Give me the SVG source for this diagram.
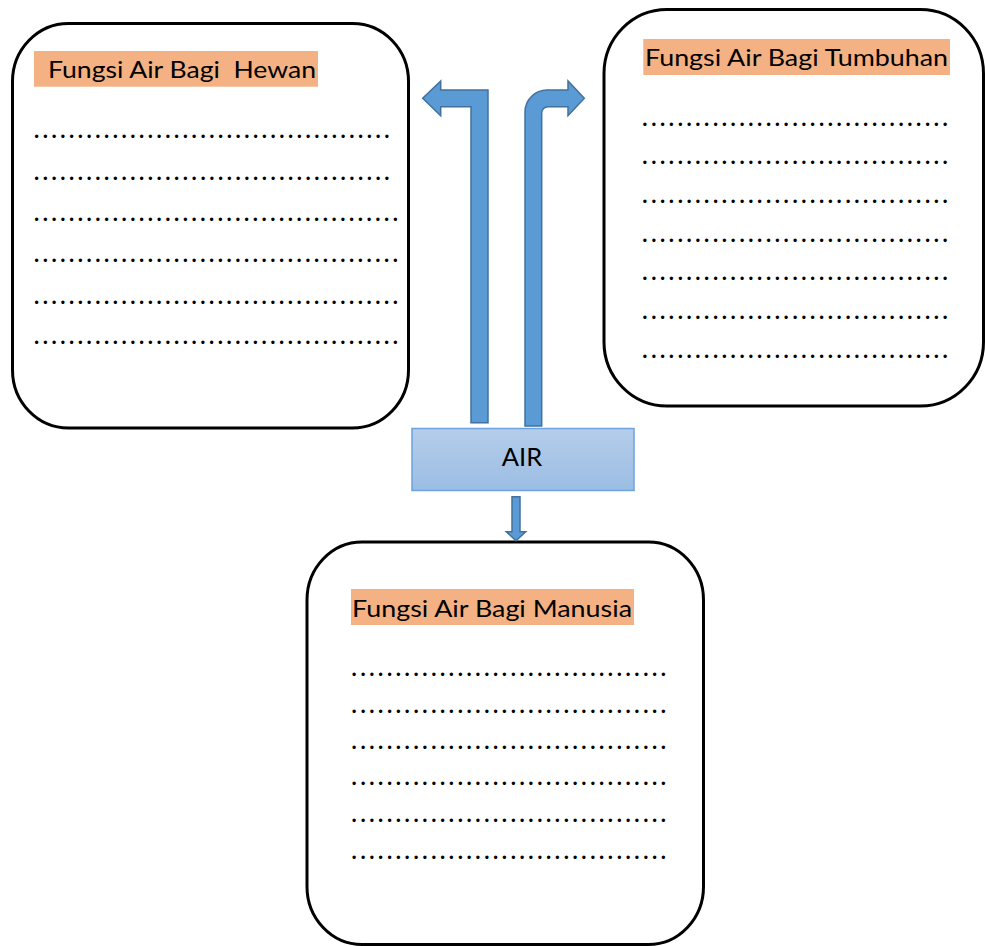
<svg xmlns="http://www.w3.org/2000/svg" width="985" height="946" viewBox="0 0 985 946">
<defs>
<linearGradient id="airGrad" x1="0" y1="0" x2="0" y2="1">
<stop offset="0" stop-color="#b5cdea"/>
<stop offset="1" stop-color="#9bbde4"/>
</linearGradient>
</defs>
<style>
.box{fill:#ffffff;stroke:#000000;stroke-width:3}
.hl{fill:#f4b183}
.title{font-family:Lato,"Liberation Sans",sans-serif;font-size:23px;fill:#000000}
.dots{font-family:Lato,"Liberation Sans",sans-serif;font-size:22px;font-weight:bold;fill:#000000}
.arrow{fill:#5b9bd5;stroke:#41719c;stroke-width:1.5;stroke-linejoin:miter}
.air{fill:url(#airGrad);stroke:#6fa3dc;stroke-width:1.5}
.airtxt{font-family:Lato,"Liberation Sans",sans-serif;font-size:25.5px;fill:#000000}
</style>
<rect width="985" height="946" fill="#ffffff"/>

<g id="node-hewan">
<rect class="box" x="12.5" y="23.5" width="396" height="404.5" rx="56" ry="58"/>
<rect class="hl" x="34" y="51" width="284" height="35.7"/>
<text class="title" x="48" y="77.7" textLength="268" lengthAdjust="spacingAndGlyphs" xml:space="preserve">Fungsi Air Bagi  Hewan</text>
<g class="dots">
<text x="34" y="138.2" textLength="355.5" lengthAdjust="spacing">.........................................</text>
<text x="34" y="180" textLength="355.5" lengthAdjust="spacing">.........................................</text>
<text x="34" y="220.5" textLength="364" lengthAdjust="spacing">..........................................</text>
<text x="34" y="262" textLength="364" lengthAdjust="spacing">..........................................</text>
<text x="34" y="303.5" textLength="364" lengthAdjust="spacing">..........................................</text>
<text x="34" y="344.2" textLength="364" lengthAdjust="spacing">..........................................</text>
</g>
</g>

<g id="node-tumbuhan">
<rect class="box" x="604" y="9.5" width="379.5" height="396.5" rx="63" ry="64"/>
<rect class="hl" x="643.3" y="39" width="306.7" height="36"/>
<text class="title" x="645" y="65.7" textLength="303" lengthAdjust="spacingAndGlyphs">Fungsi Air Bagi Tumbuhan</text>
<g class="dots">
<text x="642.3" y="125.5" textLength="305.5" lengthAdjust="spacing">...................................</text>
<text x="642.3" y="164.2" textLength="305.5" lengthAdjust="spacing">...................................</text>
<text x="642.3" y="202.8" textLength="305.5" lengthAdjust="spacing">...................................</text>
<text x="642.3" y="241.5" textLength="305.5" lengthAdjust="spacing">...................................</text>
<text x="642.3" y="280.2" textLength="305.5" lengthAdjust="spacing">...................................</text>
<text x="642.3" y="318.8" textLength="305.5" lengthAdjust="spacing">...................................</text>
<text x="642.3" y="358.2" textLength="305.5" lengthAdjust="spacing">...................................</text>
</g>
</g>

<g id="node-manusia">
<rect class="box" x="307" y="542" width="396.5" height="402.5" rx="55" ry="58"/>
<rect class="hl" x="351" y="589" width="283" height="36"/>
<text class="title" x="352" y="617.3" textLength="280" lengthAdjust="spacingAndGlyphs">Fungsi Air Bagi Manusia</text>
<g class="dots">
<text x="351.6" y="675.8" textLength="314.5" lengthAdjust="spacing">....................................</text>
<text x="351.6" y="712.5" textLength="314.5" lengthAdjust="spacing">....................................</text>
<text x="351.6" y="749.2" textLength="314.5" lengthAdjust="spacing">....................................</text>
<text x="351.6" y="784.8" textLength="314.5" lengthAdjust="spacing">....................................</text>
<text x="351.6" y="822.2" textLength="314.5" lengthAdjust="spacing">....................................</text>
<text x="351.6" y="858.8" textLength="314.5" lengthAdjust="spacing">....................................</text>
</g>
</g>

<g id="node-air">
<rect class="air" x="412" y="428.5" width="222" height="62"/>
<text class="airtxt" x="522" y="465.7" text-anchor="middle">AIR</text>
</g>

<g id="connectors">
<path class="arrow" d="M471,422.7 L471,106.7 L440.7,106.7 L440.7,115.7 L422.7,98.3 L440.7,81 L440.7,90 L488,90 L488,422.7 Z"/>
<path class="arrow" d="M525,426 L525,112 A22,22 0 0 1 547,90 L568,90 L568,81 L584.3,98.3 L568,115.7 L568,106.7 L548,106.7 A6.3,6.3 0 0 0 541.7,113 L541.7,426 Z"/>
<path class="arrow" d="M512,496.7 L520,496.7 L520,531.7 L525.7,531.7 L516,540.7 L506.3,531.7 L512,531.7 Z"/>
</g>
</svg>
